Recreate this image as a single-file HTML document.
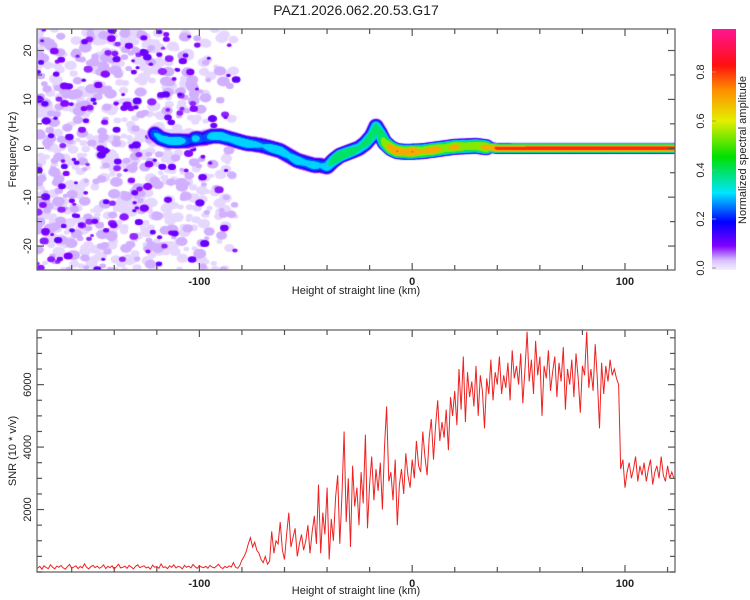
<!DOCTYPE html>
<html><head><meta charset="utf-8">
<style>
html,body{margin:0;padding:0;background:#fff;width:750px;height:600px;overflow:hidden;font-family:"Liberation Sans",sans-serif}
#wrap{position:relative;width:750px;height:600px}
canvas{position:absolute;left:0;top:0}
svg{position:absolute;left:0;top:0}
</style></head>
<body>
<div id="wrap">
<canvas id="heat" width="750" height="600"></canvas>
<svg id="svg" width="750" height="600" xmlns="http://www.w3.org/2000/svg">
<defs>
<linearGradient id="cbg" x1="0" y1="1" x2="0" y2="0">
<stop offset="0" stop-color="#f4eeff"/><stop offset="0.04" stop-color="#d8c0ff"/><stop offset="0.1" stop-color="#8000ff"/>
<stop offset="0.2" stop-color="#0000ff"/><stop offset="0.32" stop-color="#00e5ff"/><stop offset="0.47" stop-color="#00e000"/>
<stop offset="0.62" stop-color="#e6ee00"/><stop offset="0.75" stop-color="#ff8c00"/><stop offset="0.85" stop-color="#ff1010"/>
<stop offset="1" stop-color="#ff1493"/>
</linearGradient>
</defs>
<text x="356" y="15" font-size="14" text-anchor="middle" fill="#222">PAZ1.2026.062.20.53.G17</text>
<g id="top-axes"></g>
<g id="bot-axes"></g>
<polyline id="snr-line" fill="none" stroke="#ee2222" stroke-width="1"/>
<g>
<rect x="712" y="29" width="24" height="241" fill="url(#cbg)"/>
<g id="cb-ticks"></g>
<text transform="translate(746,150) rotate(-90)" font-size="11" text-anchor="middle" fill="#222">Normalized spectral amplitude</text>
</g>
</svg>
</div>
<script>
// ---------- data ----------
const xDomain = [-176.3, 123.5];
const freqDomain = [-24.9, 24.4];
const snrDomain = [0, 7750];
const xTicks = [-100, 0, 100];
const freqTicks = [-20, -10, 0, 10, 20];
const snrTicks = [2000, 4000, 6000];
const cbTicks = [0.0, 0.2, 0.4, 0.6, 0.8];
// ridge (signal track) in spectrogram
const ridgeH = [-121,-118,-114,-110,-106,-104,-102,-98,-94,-90,-86,-82,-78,-74,-70,-66,-62,-58,-54,-50,-46,-43,-40,-37,-34,-31,-28,-25,-22,-19,-17,-15,-13,-10,-7,-4,0,5,10,15,20,25,30,35,40,60,80,100,123];
const ridgeF = [3,2,1.5,1.5,1.5,1.5,2,2,2.5,2.5,2,1.5,1,0.8,0.5,0,-0.5,-1.5,-2.5,-3,-3.5,-3.5,-3.8,-2.5,-1.5,-1,-0.5,0,1,2.5,4.5,3,1.2,0,-0.6,-0.7,-0.7,-0.6,-0.3,0,0.3,0.4,0.5,0.2,0,0,0,0,0];
const ridgeA = [0.3,0.33,0.35,0.37,0.28,0.18,0.34,0.24,0.35,0.37,0.33,0.36,0.37,0.33,0.3,0.36,0.37,0.32,0.37,0.32,0.36,0.3,0.37,0.45,0.52,0.5,0.47,0.4,0.44,0.46,0.42,0.48,0.62,0.78,0.82,0.75,0.82,0.7,0.78,0.66,0.74,0.64,0.66,0.74,0.84,0.85,0.85,0.85,0.85];
// SNR series, one value per km starting at snrStart
const snrStart = -176;
const snrValues = [
120,180,90,200,140,110,230,160,100,190,
150,210,130,90,170,240,120,160,200,110,
180,130,260,150,100,170,210,140,190,120,
160,230,110,180,140,200,90,170,250,130,
150,190,120,210,160,100,180,230,140,170,
200,130,160,90,220,150,180,120,260,140,
170,110,200,150,230,130,180,160,100,210,
150,190,130,240,170,120,200,160,140,180,
120,210,160,130,190,250,150,110,180,140,
200,160,300,150,120,210,380,500,650,900,
1100,800,950,700,600,400,300,500,250,350,
1300,600,1000,900,1600,700,400,1200,1900,800,
1100,1400,500,900,1200,700,1000,1500,600,1300,
1800,900,2800,600,1900,1200,2700,400,1700,1000,
2400,3100,900,2500,4500,1600,3000,800,3400,2100,
2700,1500,3200,2200,4400,1400,2800,3700,2300,3300,
2600,3500,2000,4000,5300,2900,3200,2300,3600,1500,
2800,3300,2500,3800,3100,2700,3600,3000,4200,3400,
3200,4500,3700,3100,4300,4900,3600,4700,5500,4200,
4800,4300,5200,3900,5600,5000,5800,4700,6500,5200,
6900,4800,6400,5600,6100,5300,6600,5000,6300,5800,
4600,6200,5700,6800,5500,6400,6000,6900,5700,6300,
5900,6700,5500,7100,6200,6600,6000,7000,5400,6500,
7700,6100,6800,5700,7400,6300,6900,5000,6600,6200,
7100,5800,6400,6900,5600,6700,6100,7200,5200,6500,
6000,6800,5600,7000,6200,5100,6600,6300,7700,5900,
6500,5800,7300,6200,4600,6700,5700,6600,6100,6800,
6300,6500,6200,6000,
3300,3600,2700,3200,3500,3000,3300,3700,2900,3400,
3100,3500,2900,3300,3600,2800,3200,3400,3000,3700,
3100,2900,3400,3000,3200,3000];

// ---------- layout ----------
const TOP = {l:37, r:675, t:29, b:270};
const BOT = {l:37, r:675, t:330, b:572};
const NS = "http://www.w3.org/2000/svg";
function xs(p, v){ return p.l + (v - xDomain[0])/(xDomain[1]-xDomain[0])*(p.r-p.l); }
function ysF(v){ return TOP.b - (v - freqDomain[0])/(freqDomain[1]-freqDomain[0])*(TOP.b-TOP.t); }
function ysS(v){ return BOT.b - (v - snrDomain[0])/(snrDomain[1]-snrDomain[0])*(BOT.b-BOT.t); }
function mk(tag, attrs, parent){ const e=document.createElementNS(NS,tag); for(const k in attrs) e.setAttribute(k,attrs[k]); parent.appendChild(e); return e; }

function axes(g, p, yfun, yTicks, yMinorStep, yDom, ylabel, xlabelY){
  mk('rect',{x:p.l,y:p.t,width:p.r-p.l,height:p.b-p.t,fill:'none',stroke:'#666','stroke-width':1.3},g);
  for(let v=-160; v<=120; v+=20){
    const x=xs(p,v), big = v%100===0;
    const L = big?7:5;
    mk('line',{x1:x,y1:p.b,x2:x,y2:p.b-L,stroke:'#555','stroke-width':1.2},g);
    mk('line',{x1:x,y1:p.t,x2:x,y2:p.t+L,stroke:'#555','stroke-width':1.2},g);
  }
  xTicks.forEach(v=>{
    const t=mk('text',{x:xs(p,v),y:p.b+15,'font-size':11,'font-weight':'bold','text-anchor':'middle',fill:'#222'},g);
    t.textContent=v;
    
    
  });
  for(let v=Math.ceil(yDom[0]/yMinorStep)*yMinorStep; v<=yDom[1]; v+=yMinorStep){
    const y=yfun(v), big = yTicks.includes(v) || (yMinorStep===5 && v%10===0);
    const L = big?7:5;
    mk('line',{x1:p.l,y1:y,x2:p.l+L,y2:y,stroke:'#555','stroke-width':1.2},g);
    mk('line',{x1:p.r,y1:y,x2:p.r-L,y2:y,stroke:'#555','stroke-width':1.2},g);
  }
  yTicks.forEach(v=>{
    const y=yfun(v);
    const t=mk('text',{transform:`translate(${p.l-6},${y}) rotate(-90)`,'font-size':11,'text-anchor':'middle',fill:'#222'},g);
    t.textContent=v;
    
    
  });
  const yl=mk('text',{transform:`translate(16,${(p.t+p.b)/2}) rotate(-90)`,'font-size':11,'text-anchor':'middle',fill:'#222'},g);
  yl.textContent=ylabel;
  
  
  const xl=mk('text',{x:356,y:xlabelY,'font-size':11,'text-anchor':'middle',fill:'#222'},g);
  xl.textContent='Height of straight line (km)';
  
  
}
axes(document.getElementById('top-axes'), TOP, ysF, freqTicks, 5, freqDomain, 'Frequency (Hz)', 294);
axes(document.getElementById('bot-axes'), BOT, ysS, snrTicks, 500, snrDomain, 'SNR (10 * v/v)', 594);

// colorbar ticks
const cbg=document.getElementById('cb-ticks');
cbTicks.forEach(v=>{
  const y = 268 - v*245;
  mk('line',{x1:712,y1:y,x2:716,y2:y,stroke:'#999'},cbg);
  const t=mk('text',{transform:`translate(704,${y}) rotate(-90)`,'font-size':11,'text-anchor':'middle',fill:'#222'},cbg);
  t.textContent=v.toFixed(1);
  
  
});

// SNR line
const pts = snrValues.map((v,i)=> xs(BOT, snrStart+i).toFixed(1)+','+ysS(v).toFixed(1)).join(' ');
document.getElementById('snr-line').setAttribute('points', pts);

// ---------- heatmap ----------
const stops=[[0,[244,238,255]],[0.04,[216,192,255]],[0.1,[128,0,255]],[0.2,[0,0,255]],[0.32,[0,229,255]],[0.47,[0,224,0]],[0.62,[230,238,0]],[0.75,[255,140,0]],[0.85,[255,16,16]],[1,[255,20,147]]];
function cmap(a){
  for(let i=1;i<stops.length;i++){ if(a<=stops[i][0]){ const [a0,c0]=stops[i-1],[a1,c1]=stops[i]; const t=(a-a0)/(a1-a0); return `rgb(${c0.map((c,k)=>Math.round(c+(c1[k]-c0[k])*t)).join(',')})`; } }
  return 'rgb(255,20,147)';
}
function interp(xa, ya, x){
  if(x<=xa[0]) return ya[0];
  for(let i=1;i<xa.length;i++) if(x<=xa[i]){ const t=(x-xa[i-1])/(xa[i]-xa[i-1]); return ya[i-1]+(ya[i]-ya[i-1])*t; }
  return ya[ya.length-1];
}
const cv=document.getElementById('heat'), ctx=cv.getContext('2d');
ctx.save();
ctx.beginPath(); ctx.rect(TOP.l,TOP.t,TOP.r-TOP.l,TOP.b-TOP.t); ctx.clip();
// background noise texture (seeded)
let seed=12345;
function rnd(){ seed=(seed*1103515245+12345)%2147483648; return seed/2147483648; }
const blobs=[];
for(let i=0;i<1500;i++){
  const h = xDomain[0] + rnd()*94;
  const dens = h < -122 ? 0.75 : (h < -95 ? 0.55 : 0.35);
  if(rnd()>dens) continue;
  const f = freqDomain[0] + rnd()*(freqDomain[1]-freqDomain[0]);
  const r = rnd();
  const a = r<0.55 ? 0.02 : (r<0.82 ? 0.045 : 0.085+rnd()*0.04);
  const rad = a>0.08 ? 1.5+rnd()*2.2 : 2+rnd()*3;
  blobs.push([h,f,a,rad]);
}
blobs.sort((p,q)=>p[2]-q[2]);
blobs.forEach(b=>{
  ctx.fillStyle=cmap(b[2]);
  ctx.beginPath(); ctx.ellipse(xs(TOP,b[0]), ysF(b[1]), b[3]*1.3, b[3], 0, 0, Math.PI*2); ctx.fill();
});
// ridge layers
const levels=[0.02,0.05,0.1,0.16,0.23,0.3,0.4,0.55,0.7,0.82];
levels.forEach(L=>{
  ctx.fillStyle=cmap(L+0.01);
  for(let h=ridgeH[0]; h<=ridgeH[ridgeH.length-1]; h+=0.5){
    const a=interp(ridgeH,ridgeA,h);
    if(a<L) continue;
    const f=interp(ridgeH,ridgeF,h);
    const base = h>35 ? 4.8 : 7.5;
    const r = 0.8 + base*Math.sqrt(1 - L/a);
    ctx.beginPath(); ctx.arc(xs(TOP,h), ysF(f), r, 0, Math.PI*2); ctx.fill();
  }
});
ctx.restore();
</script>
</body></html>
